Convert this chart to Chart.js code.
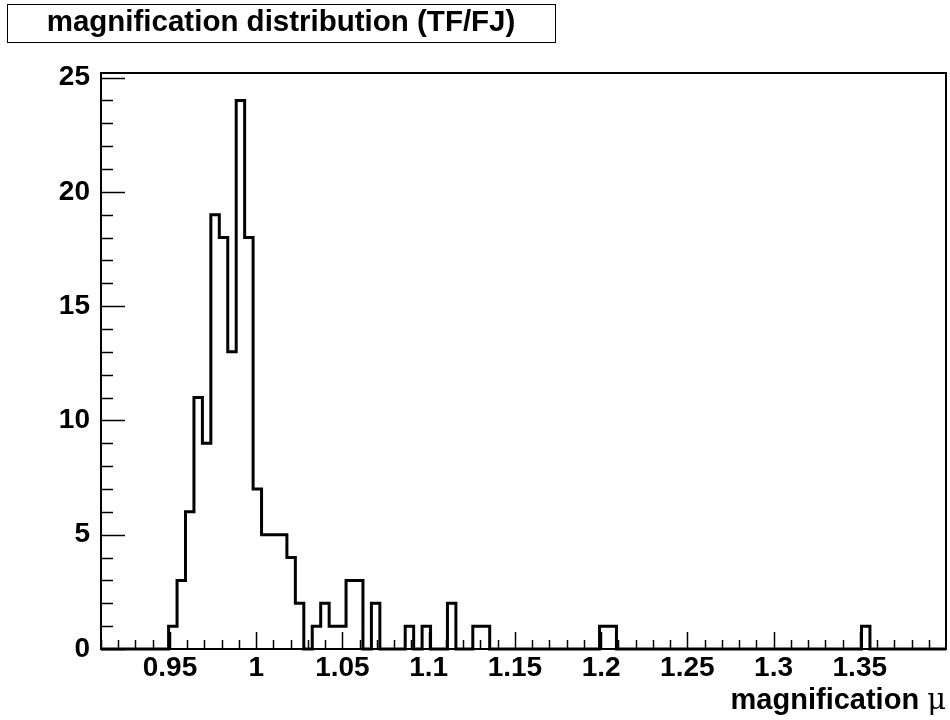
<!DOCTYPE html>
<html>
<head>
<meta charset="utf-8">
<script src="https://cdn.jsdelivr.net/npm/chart.js@4"></script>
<style>
  body { margin: 0; background: #fff; }
  #wrap { width: 950px; height: 720px; }
</style>
</head>
<body>
<div id="wrap"><canvas id="hist" width="950" height="720"></canvas></div>
<script>
// histogram binning: 100 bins from 0.91 to 1.40
const xMin = 0.91;
const xMax = 1.40;
const binWidth = 0.0049;

// counts per bin
const counts = [
  0, 0, 0, 0, 0, 0, 0, 0, 1, 3,
  6, 11, 9, 19, 18, 13, 24, 18, 7, 5,
  5, 5, 4, 2, 0, 1, 2, 1, 1, 3,
  3, 0, 2, 0, 0, 0, 1, 0, 1, 0,
  0, 2, 0, 0, 1, 1, 0, 0, 0, 0,
  0, 0, 0, 0, 0, 0, 0, 0, 0, 1,
  1, 0, 0, 0, 0, 0, 0, 0, 0, 0,
  0, 0, 0, 0, 0, 0, 0, 0, 0, 0,
  0, 0, 0, 0, 0, 0, 0, 0, 0, 0,
  1, 0, 0, 0, 0, 0, 0, 0, 0, 0
];

const xTickValues = [0.95, 1.0, 1.05, 1.1, 1.15, 1.2, 1.25, 1.3, 1.35];
const xTickLabels = ['0.95', '1', '1.05', '1.1', '1.15', '1.2', '1.25', '1.3', '1.35'];
const yTickValues = [0, 5, 10, 15, 20, 25];
const yMax = 25.2;

const titleText = 'magnification distribution (TF/FJ)';
const xTitleText = 'magnification';
const xTitleSymbol = '\u03bc';

const FONT = '"Liberation Sans", Arial, Helvetica, sans-serif';

// step points: left edge of every bin carries the bin content
const punti = counts.map((c, i) => ({ x: xMin + i * binWidth, y: c }));
punti.push({ x: xMin + counts.length * binWidth, y: 0 });

// ROOT style frame, inner ticks, title box and axis title
const rootStyle = {
  id: 'rootStyle',
  afterDraw(chart) {
    const ctx = chart.ctx;
    const a = chart.chartArea;
    const xs = chart.scales.x;
    const ys = chart.scales.y;

    ctx.save();
    ctx.strokeStyle = '#000';
    ctx.lineWidth = 2;
    ctx.strokeRect(a.left, a.top, a.right - a.left, a.bottom - a.top);

    // x ticks, minor every 0.01, major every 0.05
    ctx.lineWidth = 1.5;
    for (let i = 91; i <= 139; i++) {
      const v = i / 100;
      const px = Math.round(xs.getPixelForValue(v)) + 0.5;
      const len = (i % 5 === 0) ? 17 : 9;
      ctx.beginPath();
      ctx.moveTo(px, a.bottom);
      ctx.lineTo(px, a.bottom - len);
      ctx.stroke();
    }

    // y ticks, minor every 1, major every 5
    for (let j = 0; j <= 25; j++) {
      const py = Math.round(ys.getPixelForValue(j)) + 0.5;
      const len = (j % 5 === 0) ? 24 : 12;
      ctx.beginPath();
      ctx.moveTo(a.left, py);
      ctx.lineTo(a.left + len, py);
      ctx.stroke();
    }

    // title box
    ctx.fillStyle = '#fff';
    ctx.fillRect(7, 4, 548, 38);
    ctx.lineWidth = 1;
    ctx.strokeRect(7.5, 4.5, 548, 38);
    ctx.fillStyle = '#000';
    ctx.font = 'bold 29.5px ' + FONT;
    ctx.textAlign = 'center';
    ctx.textBaseline = 'middle';
    ctx.fillText(titleText, 281, 23);

    // x axis title, right aligned
    ctx.textAlign = 'right';
    ctx.textBaseline = 'alphabetic';
    ctx.font = '29px "DejaVu Serif", "Liberation Serif", serif';
    const wMu = ctx.measureText(xTitleSymbol).width;
    ctx.fillText(xTitleSymbol, a.right, 709);
    ctx.font = 'bold 29px ' + FONT;
    ctx.fillText(xTitleText + ' ', a.right - wMu, 709);
    ctx.restore();
  }
};

const ctx = document.getElementById('hist').getContext('2d');
const grafico = new Chart(ctx, {
  type: 'line',
  data: {
    datasets: [{
      data: punti,
      stepped: 'before',
      borderColor: '#000',
      borderWidth: 3,
      pointRadius: 0,
      fill: false,
      clip: 4
    }]
  },
  options: {
    responsive: false,
    animation: false,
    events: [],
    layout: { padding: { top: 73, right: 4, left: 0, bottom: 0 } },
    plugins: {
      legend: { display: false },
      title: { display: false },
      tooltip: { enabled: false }
    },
    scales: {
      x: {
        type: 'linear',
        min: xMin,
        max: xMax,
        grid: { display: false, drawTicks: false },
        border: { display: false },
        afterBuildTicks: (scale) => {
          scale.ticks = xTickValues.map(v => ({ value: v }));
        },
        afterFit: (scale) => { scale.height = 71; },
        ticks: {
          autoSkip: false,
          maxRotation: 0,
          padding: 2,
          color: '#000',
          font: { family: FONT, size: 28, weight: 'bold' },
          callback: (value, index) => xTickLabels[index]
        }
      },
      y: {
        type: 'linear',
        min: 0,
        max: yMax,
        grid: { display: false, drawTicks: false },
        border: { display: false },
        afterBuildTicks: (scale) => {
          scale.ticks = yTickValues.map(v => ({ value: v }));
        },
        afterFit: (scale) => { scale.width = 101; },
        ticks: {
          padding: 11,
          color: '#000',
          font: { family: FONT, size: 28, weight: 'bold' },
          callback: (value) => String(value)
        }
      }
    }
  },
  plugins: [rootStyle]
});
</script>
</body>
</html>
